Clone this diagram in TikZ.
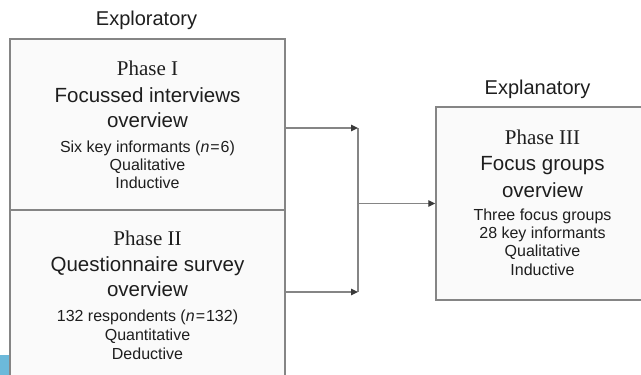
\documentclass[tikz,border=0pt]{standalone}
\usepackage{fontspec}
\setmainfont{Liberation Sans}
\newfontfamily\phasefont{Liberation Serif}
\usetikzlibrary{arrows.meta}
\definecolor{txt}{HTML}{1E1E1E}
\definecolor{ln}{HTML}{858585}
\definecolor{tipc}{HTML}{3A3A3A}
\definecolor{boxfill}{HTML}{FAFAFA}
\definecolor{tabblue}{HTML}{6CB9DA}
\begin{document}
\begin{tikzpicture}[x=1pt,y=-1pt,
 box/.style={draw=ln, line width=1.5pt, fill=boxfill, inner sep=0pt},
 hdr/.style={anchor=base, text=txt, font=\fontsize{20}{24}\selectfont},
 phase/.style={anchor=base, text=txt, font=\fontsize{21}{25}\phasefont},
 ttl/.style={anchor=base, text=txt, font=\fontsize{20.5}{24}\selectfont},
 det/.style={anchor=base, text=txt, font=\fontsize{16}{19}\selectfont},
 conn/.style={draw=ln, line width=1.4pt},
 arr/.style={conn, -{Triangle[length=7pt,width=6.5pt,color=tipc]}}]
\useasboundingbox (0,0) rectangle (641,375);
\clip (0,0) rectangle (641,375);
\fill[white] (0,0) rectangle (641,375);
\fill[tabblue] (0,355) rectangle (10,375);
% boxes
\node[box, minimum width=275pt, minimum height=171pt] (b1) at (147.5,124.5) {};
\node[box, minimum width=275pt, minimum height=175pt] (b2) at (147.5,297.5) {};
\node[box, minimum width=213pt, minimum height=193pt] (b3) at (542.5,203.5) {};
% connectors
\coordinate (j1) at (358,128);
\coordinate (j2) at (358,292);
\draw[conn] (j1) -- (j2);
\draw[arr] (b1.east |- j1) -- (j1);
\draw[arr] (b2.east |- j2) -- (j2);
\draw[arr] (j1 |- b3.west) -- (b3.west);
% headers
\node[hdr] (h1) at (146.5,25.5) {Exploratory};
\node[hdr] (h3) at (537.5,94) {Explanatory};
% box I
\node[phase] (p1) at (147.5,75) {Phase I};
\node[ttl] (t1a) at (147.5,102) {Focussed interviews};
\node[ttl] (t1b) at (147.5,127) {overview};
\node[det] (d1a) at (147.5,152) {Six key informants (\textit{n}\kern1pt=\kern1pt6)};
\node[det] (d1b) at (147.5,170) {Qualitative};
\node[det] (d1c) at (147.5,188) {Inductive};
% box II
\node[phase] (p2) at (147.5,245.7) {Phase II};
\node[ttl] (t2a) at (147.5,271) {Questionnaire survey};
\node[ttl] (t2b) at (147.5,296.7) {overview};
\node[det] (d2a) at (147.5,321.7) {132 respondents (\textit{n}\kern1pt=\kern1pt132)};
\node[det] (d2b) at (147.5,340) {Quantitative};
\node[det] (d2c) at (147.5,359) {Deductive};
% box III
\node[phase] (p3) at (542.5,144.3) {Phase III};
\node[ttl] (t3a) at (542.5,170.7) {Focus groups};
\node[ttl] (t3b) at (542.5,197.3) {overview};
\node[det] (d3a) at (542.5,220) {Three focus groups};
\node[det] (d3b) at (542.5,238.3) {28 key informants};
\node[det] (d3c) at (542.5,256.7) {Qualitative};
\node[det] (d3d) at (542.5,275) {Inductive};
\end{tikzpicture}
\end{document}
